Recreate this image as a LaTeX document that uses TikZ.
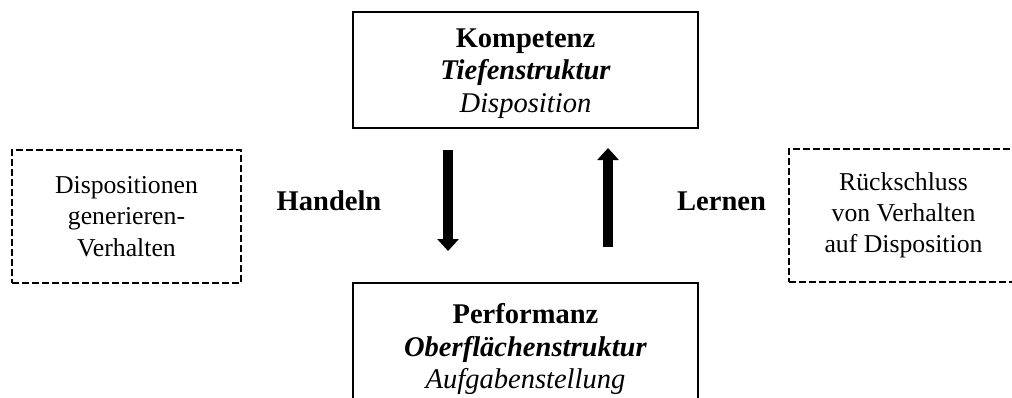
\documentclass[tikz,border=0pt]{standalone}
\usepackage{fontspec}
\setmainfont{Liberation Serif}
\usetikzlibrary{arrows.meta}

\newcommand{\firstline}{\rule{0pt}{19.5pt}}

\tikzset{
	mainbox/.style={draw, line width=1.5pt, minimum width=258.75pt, inner sep=0pt, align=center, font=\fontsize{21.4}{24.3}\selectfont},
	notebox/.style={draw, dash pattern=on 5pt off 2.5pt, line width=1.1pt, minimum width=171.75pt, minimum height=99.75pt, inner sep=0pt, align=center, font=\fontsize{19.3}{23.4}\selectfont},
	flowlabel/.style={font=\fontsize{21.4}{24}\selectfont\bfseries},
	bigarrow/.style={line width=7.5pt, -{Triangle[length=9pt, width=15.75pt]}}
}

\begin{document}
\begin{tikzpicture}[x=0.75pt, y=-0.75pt]
\useasboundingbox (0,0) rectangle (1012,397);

\node[mainbox, minimum height=87pt] (komp) at (525.5,70)
	{\firstline\textbf{Kompetenz}\\ \textbf{\textit{Tiefenstruktur}}\\ \textit{Disposition}};
\node[mainbox, minimum height=99pt] (perf) at (525.5,349)
	{\textbf{Performanz}\\ \textbf{\textit{Oberflächenstruktur}}\\ \textit{Aufgabenstellung}};

\node[notebox] (gen) at (126.5,216.5) {Dispositionen\\ generieren-\\ Verhalten};
\node[notebox] (rueck) at (903.5,215.5) {Rückschluss\\ von Verhalten\\ auf Disposition};

\node[flowlabel] (handeln) at (329,201) {Handeln};
\node[flowlabel] (lernen) at (721.5,201) {Lernen};

% Handeln: Kompetenz -> Performanz
\draw[bigarrow, shorten <=15.75pt, shorten >=23.25pt]
	([xshift=-58.1pt]komp.south) -- ([xshift=-58.1pt]perf.north);
% Lernen: Performanz -> Kompetenz
\draw[bigarrow, shorten <=26.25pt, shorten >=14.25pt]
	([xshift=61.9pt]perf.north) -- ([xshift=61.9pt]komp.south);
\end{tikzpicture}
\end{document}
